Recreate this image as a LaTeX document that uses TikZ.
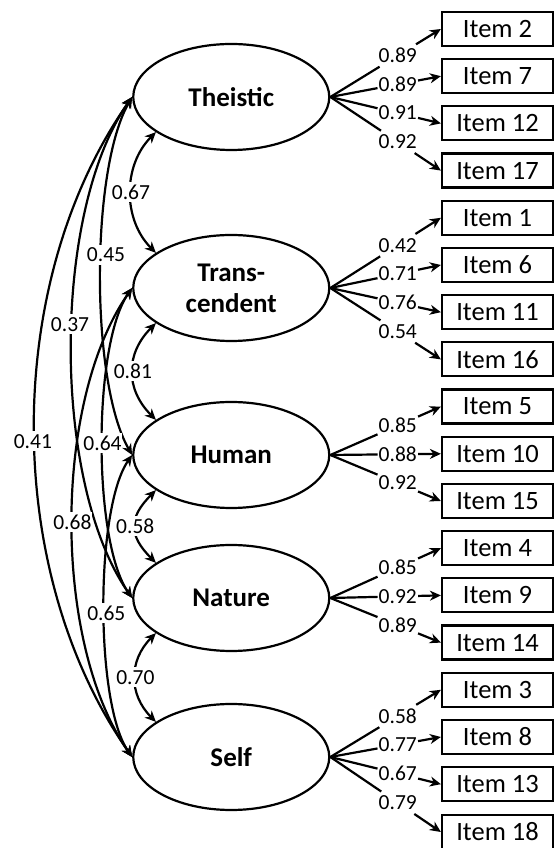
\documentclass[tikz,border=0pt]{standalone}
\usepackage{fontspec}
\setmainfont{Carlito}
\usetikzlibrary{shapes.geometric,arrows.meta}
\begin{document}
\begin{tikzpicture}[x=1pt,y=1pt,
  lat/.style={ellipse,draw,line width=2.2pt,minimum width=196pt,minimum height=106pt,inner sep=0pt,font=\fontsize{27}{31}\selectfont\bfseries,align=center},
  itembox/.style={rectangle,draw,line width=2.2pt,minimum width=111pt,minimum height=34pt,inner sep=0pt,font=\fontsize{26.5}{31}\selectfont},
  num/.style={font=\fontsize{21.5}{24}\selectfont,inner sep=1pt,minimum height=22pt},
  cnum/.style={font=\fontsize{21.5}{24}\selectfont,inner sep=0.5pt,minimum height=20pt,fill=white},
  con/.style={line width=2.2pt},
  arr/.style={line width=2.2pt,-{Stealth[length=11pt,width=10pt,inset=3.5pt]}},
  darr/.style={line width=2.2pt,{Stealth[length=11pt,width=10pt,inset=3.5pt]}-{Stealth[length=11pt,width=10pt,inset=3.5pt]}},
]
\useasboundingbox (0,0) rectangle (554,848);

% latent variables
\node[lat] (e1) at (231.25,751) {Theistic};
\node[lat] (e2) at (231.25,560) {Trans-\\cendent};
\node[lat] (e3) at (231.25,393) {Human};
\node[lat] (e4) at (231.25,250) {Nature};
\node[lat] (e5) at (231.25,91) {Self};

% items
\node[itembox] (i2)  at (497.5,819)   {Item 2};
\node[itembox] (i7)  at (497.5,771.8) {Item 7};
\node[itembox] (i12) at (497.5,724.6) {Item 12};
\node[itembox] (i17) at (497.5,677.4) {Item 17};
\node[itembox] (i1)  at (497.5,630.2) {Item 1};
\node[itembox] (i6)  at (497.5,583)   {Item 6};
\node[itembox] (i11) at (497.5,535.8) {Item 11};
\node[itembox] (i16) at (497.5,488.6) {Item 16};
\node[itembox] (i5)  at (497.5,441.4) {Item 5};
\node[itembox] (i10) at (497.5,394.2) {Item 10};
\node[itembox] (i15) at (497.5,347)   {Item 15};
\node[itembox] (i4)  at (497.5,299.8) {Item 4};
\node[itembox] (i9)  at (497.5,252.6) {Item 9};
\node[itembox] (i14) at (497.5,205.4) {Item 14};
\node[itembox] (i3)  at (497.5,158.2) {Item 3};
\node[itembox] (i8)  at (497.5,111)   {Item 8};
\node[itembox] (i13) at (497.5,63.8)  {Item 13};
\node[itembox] (i18) at (497.5,16)    {Item 18};

% loadings
\foreach \e/\i/\v in {e1/i2/0.89,e1/i7/0.89,e1/i12/0.91,e1/i17/0.92,
                      e2/i1/0.42,e2/i6/0.71,e2/i11/0.76,e2/i16/0.54,
                      e3/i5/0.85,e3/i10/0.88,e3/i15/0.92,
                      e4/i4/0.85,e4/i9/0.92,e4/i14/0.89,
                      e5/i3/0.58,e5/i8/0.77,e5/i13/0.67,e5/i18/0.79}{
  \path (\e.east) -- (\i.west) node[num,pos=0.61] (L\i) {\v};
  \draw[con] (\e.east) -- (L\i);
  \draw[arr] (L\i) -- (\i.west);
}

% adjacent covariances
\draw[darr] (e1.205) to[out=225,in=135,looseness=1.0] coordinate[pos=0.5] (c12) (e2.155);
\draw[darr] (e2.205) to[out=225,in=135,looseness=1.15] coordinate[pos=0.5] (c23) (e3.155);
\draw[darr] (e3.205) to[out=225,in=135,looseness=1.37] coordinate[pos=0.5] (c34) (e4.155);
\draw[darr] (e4.205) to[out=225,in=135,looseness=1.12] coordinate[pos=0.5] (c45) (e5.155);

% long covariances
\draw[darr] (e1.west) to[out=240,in=120,looseness=0.6] coordinate[pos=0.45] (c13) (e3.west);
\draw[darr] (e1.west) to[out=235,in=125,looseness=0.72] coordinate[pos=0.46] (c14) (e4.west);
\draw[darr] (e1.west) to[out=235,in=125,looseness=0.88] coordinate[pos=0.52] (c15) (e5.west);
\draw[darr] (e2.west) to[out=235,in=125,looseness=0.57] coordinate[pos=0.5] (c24) (e4.west);
\draw[darr] (e2.west) to[out=235,in=125,looseness=0.76] coordinate[pos=0.5] (c25) (e5.west);
\draw[darr] (e3.west) to[out=235,in=125,looseness=0.55] coordinate[pos=0.52] (c35) (e5.west);

% covariance labels
\node[cnum] (n12) at (c12) {0.67};
\node[cnum] (n23) at (c23) {0.81};
\node[cnum] (n34) at (c34) {0.58};
\node[cnum] (n45) at (c45) {0.70};
\node[cnum] (n13) at ([xshift=5pt]c13) {0.45};
\node[cnum] (n14) at ([xshift=-2pt]c14) {0.37};
\node[cnum] (n15) at ([xshift=-2pt]c15) {0.41};
\node[cnum] (n24) at (c24) {0.64};
\node[cnum] (n25) at (c25) {0.68};
\node[cnum] (n35) at ([xshift=2pt]c35) {0.65};
\end{tikzpicture}
\end{document}
